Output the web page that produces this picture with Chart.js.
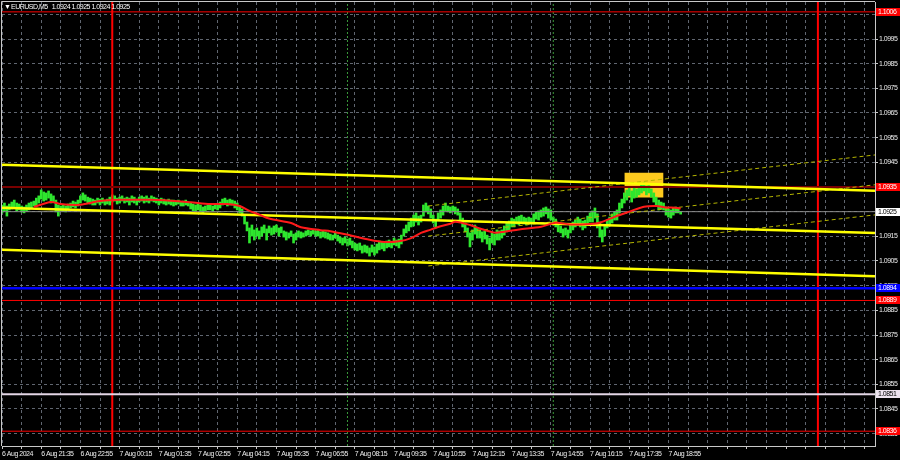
<!DOCTYPE html>
<html lang="en">
<head>
<meta charset="UTF-8">
<title>EURUSD M5</title>
<script src="https://cdn.jsdelivr.net/npm/chart.js"></script>
<style>
  html, body { margin: 0; padding: 0; background: #000; }
  #wrap { width: 900px; height: 460px; }
</style>
</head>
<body>
<div id="wrap"><canvas id="chart" width="900" height="460"></canvas></div>
<script>
// ---- values (M5 bars from 6 Aug 20:15) ----
const symbol = 'EURUSD,M5';
const lastOhlc = [1.0924, 1.0925, 1.0924, 1.0925];

const xLabels = ['6 Aug 2024', '6 Aug 21:35', '6 Aug 22:55', '7 Aug 00:15', '7 Aug 01:35', '7 Aug 02:55',
  '7 Aug 04:15', '7 Aug 05:35', '7 Aug 06:55', '7 Aug 08:15', '7 Aug 09:35', '7 Aug 10:55',
  '7 Aug 12:15', '7 Aug 13:35', '7 Aug 14:55', '7 Aug 16:15', '7 Aug 17:35', '7 Aug 18:55'];
const yTicks = [1.0835, 1.0845, 1.0855, 1.0865, 1.0875, 1.0885, 1.0895, 1.0905, 1.0915,
  1.0925, 1.0935, 1.0945, 1.0955, 1.0965, 1.0975, 1.0985, 1.0995, 1.1005];

const highs = [
  1.09277,1.09285,1.09273,1.09281,1.09289,1.09297,1.09285,1.09281,1.09273,1.09269,
  1.09277,1.09285,1.09289,1.09293,1.09305,1.09314,1.09338,1.09330,1.09326,1.09334,
  1.09322,1.09314,1.09297,1.09277,1.09273,1.09277,1.09273,1.09281,1.09285,1.09293,
  1.09289,1.09297,1.09314,1.09326,1.09318,1.09309,1.09305,1.09301,1.09297,1.09305,
  1.09301,1.09305,1.09297,1.09301,1.09309,1.09318,1.09314,1.09305,1.09309,1.09314,
  1.09305,1.09309,1.09305,1.09314,1.09309,1.09301,1.09309,1.09314,1.09309,1.09314,
  1.09305,1.09314,1.09309,1.09305,1.09301,1.09305,1.09301,1.09297,1.09301,1.09297,
  1.09297,1.09293,1.09297,1.09289,1.09293,1.09297,1.09289,1.09285,1.09281,1.09277,
  1.09281,1.09277,1.09269,1.09273,1.09277,1.09277,1.09273,1.09277,1.09281,1.09289,
  1.09301,1.09305,1.09297,1.09301,1.09297,1.09293,1.09285,1.09273,1.09261,1.09236,
  1.09208,1.09184,1.09196,1.09176,1.09184,1.09172,1.09188,1.09196,1.09180,1.09192,
  1.09184,1.09192,1.09196,1.09184,1.09188,1.09172,1.09168,1.09164,1.09172,1.09159,
  1.09164,1.09172,1.09168,1.09164,1.09172,1.09176,1.09172,1.09176,1.09172,1.09176,
  1.09168,1.09172,1.09168,1.09164,1.09159,1.09155,1.09164,1.09155,1.09147,1.09143,
  1.09147,1.09139,1.09143,1.09131,1.09123,1.09119,1.09123,1.09111,1.09115,1.09111,
  1.09103,1.09115,1.09107,1.09119,1.09131,1.09127,1.09123,1.09131,1.09135,1.09127,
  1.09143,1.09135,1.09139,1.09155,1.09180,1.09196,1.09208,1.09224,1.09236,1.09245,
  1.09232,1.09236,1.09277,1.09285,1.09273,1.09261,1.09236,1.09220,1.09245,1.09257,
  1.09273,1.09285,1.09273,1.09269,1.09273,1.09269,1.09261,1.09245,1.09224,1.09204,
  1.09184,1.09164,1.09176,1.09196,1.09184,1.09176,1.09168,1.09172,1.09155,1.09143,
  1.09164,1.09159,1.09176,1.09172,1.09176,1.09192,1.09204,1.09212,1.09224,1.09220,
  1.09228,1.09232,1.09236,1.09228,1.09224,1.09228,1.09224,1.09241,1.09249,1.09253,
  1.09257,1.09265,1.09269,1.09261,1.09257,1.09228,1.09220,1.09196,1.09192,1.09180,
  1.09184,1.09176,1.09196,1.09208,1.09216,1.09228,1.09220,1.09212,1.09216,1.09232,
  1.09245,1.09253,1.09265,1.09241,1.09208,1.09176,1.09196,1.09216,1.09228,1.09241,
  1.09249,1.09257,1.09285,1.09301,1.09326,1.09338,1.09350,1.09334,1.09346,1.09342,
  1.09350,1.09358,1.09366,1.09354,1.09358,1.09342,1.09326,1.09309,1.09297,1.09289,
  1.09285,1.09269,1.09261,1.09257,1.09265,1.09269,1.09265,1.09251
];
const lows = [
  1.09245,1.09253,1.09232,1.09257,1.09261,1.09269,1.09253,1.09257,1.09249,1.09245,
  1.09253,1.09257,1.09265,1.09273,1.09273,1.09285,1.09301,1.09293,1.09297,1.09305,
  1.09285,1.09289,1.09249,1.09232,1.09253,1.09253,1.09249,1.09257,1.09265,1.09269,
  1.09265,1.09273,1.09285,1.09297,1.09293,1.09285,1.09281,1.09277,1.09277,1.09285,
  1.09277,1.09285,1.09277,1.09281,1.09277,1.09289,1.09293,1.09281,1.09285,1.09293,
  1.09285,1.09289,1.09277,1.09289,1.09285,1.09277,1.09289,1.09293,1.09285,1.09289,
  1.09285,1.09293,1.09289,1.09285,1.09277,1.09285,1.09281,1.09277,1.09281,1.09277,
  1.09273,1.09277,1.09281,1.09273,1.09273,1.09277,1.09273,1.09261,1.09253,1.09253,
  1.09257,1.09249,1.09245,1.09253,1.09257,1.09257,1.09253,1.09261,1.09257,1.09265,
  1.09277,1.09281,1.09273,1.09277,1.09277,1.09265,1.09257,1.09245,1.09232,1.09200,
  1.09172,1.09123,1.09151,1.09135,1.09151,1.09139,1.09151,1.09164,1.09135,1.09164,
  1.09155,1.09159,1.09168,1.09151,1.09164,1.09147,1.09135,1.09143,1.09151,1.09123,
  1.09135,1.09147,1.09143,1.09147,1.09151,1.09155,1.09151,1.09159,1.09151,1.09151,
  1.09143,1.09147,1.09143,1.09139,1.09135,1.09135,1.09143,1.09131,1.09123,1.09115,
  1.09123,1.09111,1.09115,1.09103,1.09095,1.09091,1.09095,1.09082,1.09086,1.09082,
  1.09070,1.09086,1.09074,1.09082,1.09095,1.09099,1.09091,1.09103,1.09107,1.09103,
  1.09115,1.09111,1.09103,1.09119,1.09151,1.09164,1.09172,1.09188,1.09192,1.09208,
  1.09196,1.09208,1.09232,1.09249,1.09241,1.09224,1.09204,1.09184,1.09216,1.09224,
  1.09236,1.09253,1.09249,1.09245,1.09253,1.09241,1.09236,1.09212,1.09188,1.09168,
  1.09147,1.09107,1.09135,1.09159,1.09143,1.09143,1.09127,1.09139,1.09119,1.09095,
  1.09123,1.09115,1.09135,1.09135,1.09143,1.09155,1.09168,1.09176,1.09188,1.09188,
  1.09200,1.09196,1.09208,1.09200,1.09196,1.09204,1.09200,1.09208,1.09220,1.09216,
  1.09228,1.09232,1.09241,1.09224,1.09216,1.09196,1.09188,1.09168,1.09164,1.09147,
  1.09155,1.09143,1.09164,1.09176,1.09188,1.09196,1.09188,1.09176,1.09184,1.09196,
  1.09208,1.09208,1.09224,1.09184,1.09147,1.09127,1.09151,1.09184,1.09192,1.09204,
  1.09216,1.09216,1.09245,1.09265,1.09285,1.09297,1.09314,1.09289,1.09305,1.09309,
  1.09318,1.09326,1.09334,1.09318,1.09326,1.09309,1.09289,1.09273,1.09257,1.09261,
  1.09257,1.09236,1.09228,1.09224,1.09236,1.09245,1.09245,1.09240
];

// red moving average, sampled at these bars
const maBars = [13, 20, 24, 32, 40, 48, 60, 69, 77, 85, 92, 97, 101, 105, 109, 118, 122, 130, 134,
  142, 150, 156, 162, 167, 171, 175, 179, 183, 185, 191, 195, 201, 205, 211, 220, 226, 232, 240,
  244, 250, 256, 262, 267, 271, 275, 277];
const maValues = [1.09269, 1.09289, 1.09281, 1.09278, 1.09293, 1.09298, 1.09298, 1.09294, 1.09288,
  1.09281, 1.09281, 1.09273, 1.09253, 1.09238, 1.09222, 1.09204, 1.09187, 1.09175, 1.09171,
  1.09154, 1.09136, 1.09127, 1.09130, 1.09143, 1.09164, 1.09177, 1.09191, 1.09201, 1.09209,
  1.09196, 1.09182, 1.09165, 1.09169, 1.09178, 1.09189, 1.09205, 1.09198, 1.09200, 1.09205,
  1.09229, 1.09250, 1.09270, 1.09273, 1.09267, 1.09266, 1.09263];

// falling channel (solid) and rising channel (dashed)
const channelStart = [1.09440, 1.09266, 1.09096];
const channelEnd = [1.09335, 1.09164, 1.08988];
const risingFromBar = 174;
const risingStart = [1.09273, 1.09151, 1.09030];
const risingEnd = [1.09480, 1.09359, 1.09237];

// resistance box
const zoneBars = [254, 270];
const zonePrices = [1.09307, 1.09408];

// horizontal levels and vertical markers
const redLevels = [1.1006, 1.0889, 1.0836];
const maroonLevel = 1.0935;
const blueLevel = 1.0894;
const silverLevel = 1.0851;
const bidPrice = 1.0925;
const dayBreaks = [45, 333];
const sessionBars = [141, 225];

// ---- chart ----
const FONT = "'Liberation Sans', Arial, sans-serif";
const FONT_SIZE = 7;
const TEXT = '#ececec';
const X_MAX = 356.3;
const Y_MIN = 1.0830, Y_MAX = 1.1010;

function seg(x0, y0, x1, y1, color, width, dash) {
  return {
    type: 'line',
    data: [{ x: x0, y: y0 }, { x: x1, y: y1 }],
    borderColor: color,
    borderWidth: width,
    borderDash: dash || [],
    pointRadius: 0,
    fill: false,
    order: 1
  };
}

const datasets = [];

datasets.push({
  type: 'line',
  data: maBars.map((b, i) => ({ x: b, y: maValues[i] })),
  borderColor: '#ff1a1a',
  borderWidth: 2,
  pointRadius: 0,
  tension: 0.3,
  fill: false,
  order: 1
});
channelStart.forEach((v, i) => datasets.push(seg(0, v, X_MAX, channelEnd[i], '#ffff00', 2.5)));
risingStart.forEach((v, i) => datasets.push(seg(risingFromBar, v, X_MAX, risingEnd[i], '#b4b400', 1, [4, 3])));
datasets.push(seg(0, bidPrice, X_MAX, bidPrice, '#8a8a8a', 1));
datasets.push(seg(0, maroonLevel, X_MAX, maroonLevel, '#7a0000', 2));
redLevels.forEach(v => datasets.push(seg(0, v, X_MAX, v, '#ff0000', 1)));
datasets.push(seg(0, blueLevel, X_MAX, blueLevel, '#0000ff', 2.5));
datasets.push(seg(0, silverLevel, X_MAX, silverLevel, '#e4d6e6', 2));
dayBreaks.forEach(b => datasets.push(seg(b, Y_MIN, b, Y_MAX, '#ff0000', 2)));
sessionBars.forEach(b => datasets.push(seg(b, Y_MIN, b, Y_MAX, '#3a9a3a', 1, [2, 2])));

datasets.push({
  type: 'bar',
  data: highs.map((h, i) => ({ x: i, y: [lows[i], h] })),
  backgroundColor: '#2ee62e',
  borderWidth: 0,
  barThickness: 2,
  grouped: false,
  order: 10
});

datasets.push({
  type: 'line',
  data: [{ x: zoneBars[0], y: zonePrices[1] }, { x: zoneBars[1], y: zonePrices[1] }],
  borderWidth: 0,
  pointRadius: 0,
  backgroundColor: '#fdca1e',
  fill: '+1',
  order: 20
});
datasets.push({
  type: 'line',
  data: [{ x: zoneBars[0], y: zonePrices[0] }, { x: zoneBars[1], y: zonePrices[0] }],
  borderWidth: 0,
  pointRadius: 0,
  fill: false,
  order: 20
});

// the terminal font is very tight; squeeze all canvas text a little
const tightText = {
  id: 'tightText',
  beforeDraw(chart) {
    chart.ctx.letterSpacing = '-0.5px';
  }
};

const priceTags = {
  id: 'priceTags',
  afterDraw(chart) {
    const { ctx, chartArea: a } = chart;
    const y = chart.scales.y;
    ctx.save();
    // left / top frame
    ctx.strokeStyle = '#c8c8c8';
    ctx.lineWidth = 1;
    ctx.beginPath();
    ctx.moveTo(a.left - 0.5, a.bottom);
    ctx.lineTo(a.left - 0.5, a.top - 0.5);
    ctx.lineTo(a.right, a.top - 0.5);
    ctx.stroke();

    const tags = [
      [redLevels[0], '#ff0000', '#ffffff'],
      [maroonLevel, '#ff0000', '#ffffff'],
      [bidPrice, '#ffffff', '#000000'],
      [blueLevel, '#0000ff', '#ffffff'],
      [redLevels[1], '#ff0000', '#ffffff'],
      [silverLevel, '#ece2ee', '#000000'],
      [redLevels[2], '#ff0000', '#ffffff']
    ];
    ctx.letterSpacing = '-0.5px';
    ctx.font = FONT_SIZE + 'px ' + FONT;
    ctx.textBaseline = 'middle';
    ctx.textAlign = 'left';
    tags.forEach(([v, bg, fg]) => {
      const py = Math.round(y.getPixelForValue(v));
      ctx.fillStyle = bg;
      ctx.fillRect(a.right + 1, py - 4, 25, 8);
      ctx.fillStyle = fg;
      ctx.fillText(v.toFixed(4), a.right + 3, py + 0.5);
    });

    // symbol header
    ctx.fillStyle = '#ffffff';
    ctx.fillText('\u25BC', a.left + 2, 7);
    ctx.fillText(symbol, a.left + 9, 7);
    const after = a.left + 9 + ctx.measureText(symbol).width + 4;
    ctx.fillText(lastOhlc.map(v => v.toFixed(4)).join(' '), after, 7);
    ctx.restore();
  }
};

new Chart(document.getElementById('chart'), {
  type: 'bar',
  data: { datasets },
  options: {
    responsive: false,
    animation: false,
    events: [],
    layout: { padding: { left: 2, top: 2, right: 0, bottom: 0 } },
    plugins: { legend: { display: false }, tooltip: { enabled: false } },
    scales: {
      x: {
        type: 'linear',
        min: 0,
        max: X_MAX,
        offset: false,
        grid: { offset: false, color: 'rgba(120,128,140,0.8)', lineWidth: 1, tickLength: 3, tickColor: '#c8c8c8' },
        border: { display: true, color: '#c8c8c8', width: 1, dash: [3, 3] },
        afterBuildTicks(scale) {
          const t = [];
          for (let b = 0; b <= X_MAX; b += 8) t.push({ value: b });
          scale.ticks = t;
        },
        afterFit(scale) {
          scale.height = 14;
          scale.paddingLeft = 0;
          scale.paddingRight = 0;
        },
        ticks: {
          autoSkip: false,
          maxRotation: 0,
          align: 'start',
          padding: 1,
          color: TEXT,
          font: { family: FONT, size: FONT_SIZE },
          callback: v => (v % 16 === 0 && xLabels[v / 16]) ? xLabels[v / 16] : ''
        }
      },
      y: {
        type: 'linear',
        position: 'right',
        min: Y_MIN,
        max: Y_MAX,
        beginAtZero: false,
        grid: { color: 'rgba(120,128,140,0.8)', lineWidth: 1, tickLength: 3, tickColor: '#c8c8c8' },
        border: { display: true, color: '#c8c8c8', width: 1, dash: [3, 3] },
        afterBuildTicks(scale) {
          scale.ticks = yTicks.map(v => ({ value: v }));
        },
        afterFit(scale) {
          scale.width = 25;
          scale.paddingTop = 0;
          scale.paddingBottom = 0;
        },
        ticks: {
          padding: 1,
          color: TEXT,
          font: { family: FONT, size: FONT_SIZE },
          callback: v => v.toFixed(4)
        }
      }
    }
  },
  plugins: [tightText, priceTags]
});
</script>
</body>
</html>
